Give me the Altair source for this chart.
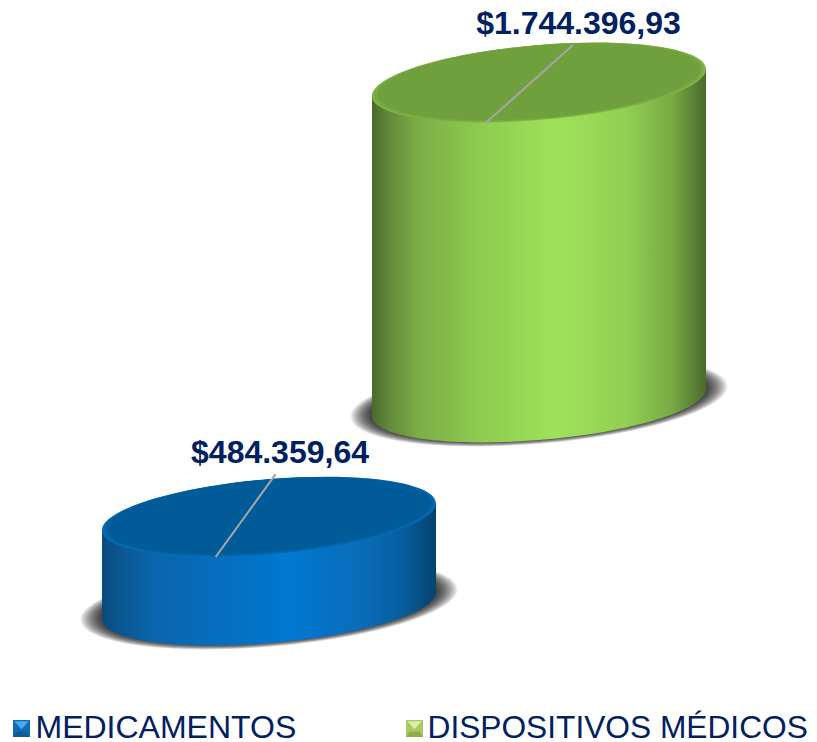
import altair as alt
import pandas as pd

# ---------- data ----------
categories = ["MEDICAMENTOS", "DISPOSITIVOS MÉDICOS"]
values = [484359.64, 1744396.93]
labels = ["$484.359,64", "$1.744.396,93"]

# ---------- layout / projection constants ----------
W, H = 801, 734
PAD = 8
X0_PX, DX_PX = 269.0, 270.0      # page x of category 0, px per category step
Y0_PX = 605.5                    # page y of the floor of category 0
VPP = 1744396.93 / 320.0         # value per pixel
DEPTH = 203.0 * VPP              # each category sits further back on the floor
HALF = 167.0 / DX_PX             # half-width of a cylinder in category units
SKEW = 13.5 * VPP                # tilt of the elliptical cross-section
A_PX, B_PX, S_PX = 167.0, 37.6, 13.5

x_scale = alt.Scale(domain=[(PAD - X0_PX) / DX_PX, (PAD + W - X0_PX) / DX_PX], nice=False, zero=False)
y_scale = alt.Scale(domain=[(Y0_PX - PAD - H) * VPP, (Y0_PX - PAD) * VPP], nice=False, zero=False)
X = lambda f="x": alt.X(f"{f}:Q", scale=x_scale, axis=None)
Y = lambda f="y": alt.Y(f"{f}:Q", scale=y_scale, axis=None)


def ellipse_path():
    k = 0.5523
    b, s = B_PX / A_PX, S_PX / A_PX
    def p(u, v):
        return f"{u:.4f},{b * v - s * u:.4f}"
    return (f"M{p(1, 0)}C{p(1, k)} {p(k, 1)} {p(0, 1)}C{p(-k, 1)} {p(-1, k)} {p(-1, 0)}"
            f"C{p(-1, -k)} {p(-k, -1)} {p(0, -1)}C{p(k, -1)} {p(1, -k)} {p(1, 0)}Z")


ELLIPSE = ellipse_path()
BASE_SIZE = (2 * A_PX) ** 2


def grad(stops):
    return alt.LinearGradient(
        gradient="linear", x1=0, x2=1, y1=0, y2=0,
        stops=[alt.GradientStop(offset=o, color=c) for o, c in stops],
    )


side_stops = [
    [(0, "#0b4a7c"), (0.05, "#0a5690"), (0.16, "#0a66ae"), (0.38, "#046fc0"),
     (0.56, "#0078d2"), (0.78, "#0a6cb8"), (0.90, "#075e9e"), (1, "#07426e")],
    [(0, "#4a6a2c"), (0.05, "#62893a"), (0.14, "#7dad47"), (0.32, "#8ccb4e"),
     (0.55, "#9fe25a"), (0.76, "#92cf52"), (0.90, "#78a944"), (1, "#4a6a2c")],
]
rim_colors = ["#066ab2", "#80b445"]
mid_colors = ["#0362a5", "#78aa41"]
top_colors = ["#005b98", "#70a03d"]
legend_base = ["#0f6cb4", "#a8c862"]
legend_light = ["#47aaf0", "#dcedaa"]
legend_dark = ["#0c5a98", "#8fac4a"]
label_color = "#002060"
leader_color = "#a6a6a6"
FONT = "Liberation Sans"

layers = []

# shadows: many faint ellipses build a soft edge
shadow_rows = []
for i, v in enumerate(values):
    for n in range(26):
        sc = 1.13 - n * 0.0052
        shadow_rows.append({"x": i, "y": i * DEPTH + 1.0 * VPP, "size": BASE_SIZE * sc * sc})
layers.append(
    alt.Chart(pd.DataFrame(shadow_rows))
    .mark_point(filled=True, shape=ELLIPSE, color="#000000", opacity=0.048, strokeWidth=0)
    .encode(x=X(), y=Y(), size=alt.Size("size:Q", scale=None, legend=None))
)

for i, v in enumerate(values):
    floor = i * DEPTH
    g = grad(side_stops[i])
    # bottom cap
    layers.append(
        alt.Chart(pd.DataFrame({"x": [i], "y": [floor]}))
        .mark_point(filled=True, shape=ELLIPSE, size=BASE_SIZE, fill=g, opacity=1, strokeWidth=0)
        .encode(x=X(), y=Y())
    )
    # side wall: a parallelogram between the two extreme points of the section
    wall = pd.DataFrame({
        "x": [i - HALF, i + HALF],
        "y": [floor + v - SKEW, floor + v + SKEW],
        "y2": [floor - SKEW, floor + SKEW],
    })
    layers.append(
        alt.Chart(wall).mark_area(color=g, opacity=1).encode(
            x=X(), y=Y(), y2=alt.Y2("y2:Q")
        )
    )
    # top face: soft bevel, weighted to the front edge
    for col, sc, lift in [(rim_colors[i], 1.0, 0.0), (mid_colors[i], 0.985, 0.4), (top_colors[i], 0.968, 0.8)]:
        top = pd.DataFrame({"x": [i], "y": [floor + v + lift * VPP]})
        layers.append(
            alt.Chart(top)
            .mark_point(filled=True, shape=ELLIPSE, size=BASE_SIZE * sc * sc, color=col, opacity=1, strokeWidth=0)
            .encode(x=X(), y=Y())
        )

# leader lines
leader_dx = [(-53.3, 6.7), (-53.3, 34.0)]
leader_dy = [(-40.2, 42.5), (-40.5, 37.5)]   # px above (+) / below (-) the top-face centre
leaders = []
for i, v in enumerate(values):
    top_v = i * DEPTH + v
    leaders.append({
        "x": i + leader_dx[i][0] / DX_PX, "x2": i + leader_dx[i][1] / DX_PX,
        "y": top_v + leader_dy[i][0] * VPP, "y2": top_v + leader_dy[i][1] * VPP,
    })
layers.append(
    alt.Chart(pd.DataFrame(leaders))
    .mark_rule(color=leader_color, strokeWidth=2)
    .encode(x=X(), x2=alt.X2("x2:Q"), y=Y(), y2=alt.Y2("y2:Q"))
)

# value labels
label_dx = [11.0, 39.5]
label_dy = [53.5, 48.5]
label_rows = [
    {"x": i + label_dx[i] / DX_PX, "y": i * DEPTH + v + label_dy[i] * VPP, "t": labels[i]}
    for i, v in enumerate(values)
]
layers.append(
    alt.Chart(pd.DataFrame(label_rows))
    .mark_text(font=FONT, fontSize=32, fontWeight="bold", color=label_color,
               align="center", baseline="alphabetic")
    .encode(x=X(), y=Y(), text="t:N")
)

# legend (two widely spaced entries along the bottom)
SQUARE = "M-1,-1L1,-1L1,1L-1,1Z"
LIGHT = "M-0.85,-0.85L0.85,-0.85L0,0.1Z"
DARK = "M-1,1L-0.55,0.35L0.55,0.35L1,1Z"
legend_sym_x = [21.5, 414.5]
legend_text_x = [35.5, 427.5]
legend_font = [32, 31.7]
legend_sym_y, legend_base_y = 728.5, 738.0
for i, c in enumerate(categories):
    px, py = legend_sym_x[i] - PAD, legend_sym_y - PAD
    one = pd.DataFrame({"c": [c]})
    for shape, col in [(SQUARE, legend_base[i]), (DARK, legend_dark[i]), (LIGHT, legend_light[i])]:
        layers.append(
            alt.Chart(one)
            .mark_point(filled=True, shape=shape, size=17 ** 2, color=col, opacity=1, strokeWidth=0)
            .encode(x=alt.value(px), y=alt.value(py))
        )
    layers.append(
        alt.Chart(one)
        .mark_text(font=FONT, fontSize=legend_font[i], color=label_color, align="left", baseline="alphabetic")
        .encode(x=alt.value(legend_text_x[i] - PAD), y=alt.value(legend_base_y - PAD), text="c:N")
    )

chart = (
    alt.layer(*layers)
    .properties(width=W, height=H, padding=0, autosize=alt.AutoSizeParams(type="none"), background="white")
    .configure_view(stroke=None)
)
chart.save("out.html", embed_options={"renderer": "svg", "actions": False})
